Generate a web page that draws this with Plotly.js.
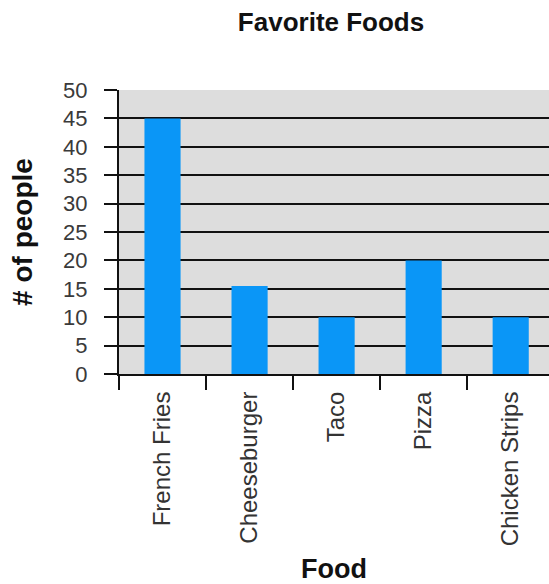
<!DOCTYPE html>
<html>
<head>
<meta charset="utf-8">
<script src="https://cdn.plot.ly/plotly-3.0.1.min.js"></script>
<style>html,body{margin:0;padding:0;background:#fff;}#chart{width:549px;height:584px;}</style>
</head>
<body>
<div id="chart"></div>
<script>
const categories = ["French Fries", "Cheeseburger", "Taco", "Pizza", "Chicken Strips"];
const people = [45, 15.5, 10, 20, 10];
const yTicks = [0, 5, 10, 15, 20, 25, 30, 35, 40, 45, 50];

const FONT = "Liberation Sans, Arial, Helvetica, sans-serif";

Plotly.newPlot("chart", [{
  type: "bar",
  x: categories,
  y: people,
  marker: {color: "#0a96f7", line: {width: 0}},
  hoverinfo: "none"
}], {
  width: 549, height: 584,
  margin: {l: 119, r: 0, t: 90, b: 210},
  paper_bgcolor: "#ffffff",
  plot_bgcolor: "#dddddd",
  bargap: 0.585,
  showlegend: false,
  title: {text: "<b>Favorite Foods</b>", x: 0.603, xanchor: "center", y: 0.962, yanchor: "middle",
          font: {family: FONT, size: 26, color: "#111"}},
  xaxis: {
    type: "category",
    range: [-0.5, 4.44],
    tickson: "boundaries",
    ticks: "outside", ticklen: 14, tickwidth: 2, tickcolor: "#111",
    tickangle: -90,
    ticklabelstandoff: 6,
    tickfont: {family: FONT, size: 24, color: "#333"},
    showgrid: false, zeroline: false,
    showline: true, linecolor: "#111", linewidth: 2,
    automargin: false,
    title: {text: "<b>Food</b>", font: {family: FONT, size: 27, color: "#111"}, standoff: 17}
  },
  yaxis: {
    range: [0, 50],
    tickvals: yTicks,
    ticks: "outside", ticklen: 13, tickwidth: 2, tickcolor: "#111",
    ticklabelstandoff: 12,
    tickfont: {family: FONT, size: 22, color: "#3a3a3a"},
    showgrid: true, gridcolor: "#111", gridwidth: 2,
    zeroline: false,
    showline: true, linecolor: "#111", linewidth: 2,
    automargin: false,
    title: {text: "<b># of people</b>", font: {family: FONT, size: 28, color: "#111"}, standoff: 22}
  }
}, {displayModeBar: false, staticPlot: true});
</script>
</body>
</html>
